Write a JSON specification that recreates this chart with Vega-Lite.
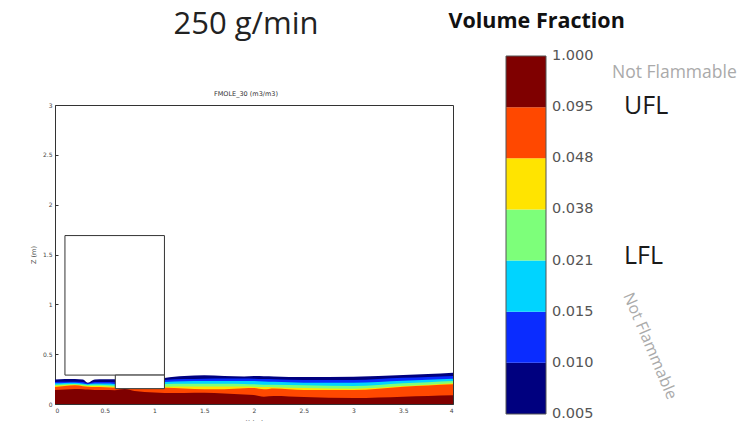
{
  "$schema": "https://vega.github.io/schema/vega-lite/v6.json",
  "background": "white",
  "padding": {"left": 29, "top": 8, "right": 0, "bottom": 0},
  "spacing": -6,
  "align": "none",
  "datasets": {
    "flow": [
      {"x": 0, "h005": 0.245, "h010": 0.22, "h015": 0.207, "h021": 0.194, "h038": 0.183, "h048": 0.17, "h095": 0.14},
      {"x": 0.1, "h005": 0.25, "h010": 0.222, "h015": 0.21, "h021": 0.197, "h038": 0.188, "h048": 0.18, "h095": 0.145},
      {"x": 0.2, "h005": 0.252, "h010": 0.224, "h015": 0.212, "h021": 0.2, "h038": 0.192, "h048": 0.187, "h095": 0.15},
      {"x": 0.28, "h005": 0.245, "h010": 0.22, "h015": 0.205, "h021": 0.195, "h038": 0.185, "h048": 0.178, "h095": 0.148},
      {"x": 0.33, "h005": 0.214, "h010": 0.205, "h015": 0.198, "h021": 0.19, "h038": 0.18, "h048": 0.172, "h095": 0.145},
      {"x": 0.4, "h005": 0.245, "h010": 0.22, "h015": 0.205, "h021": 0.192, "h038": 0.18, "h048": 0.17, "h095": 0.14},
      {"x": 0.5, "h005": 0.248, "h010": 0.22, "h015": 0.205, "h021": 0.19, "h038": 0.178, "h048": 0.168, "h095": 0.14},
      {"x": 0.6, "h005": 0.248, "h010": 0.218, "h015": 0.2, "h021": 0.186, "h038": 0.173, "h048": 0.163, "h095": 0.138},
      {"x": 0.7, "h005": 0.155, "h010": 0.155, "h015": 0.155, "h021": 0.155, "h038": 0.155, "h048": 0.155, "h095": 0.15},
      {"x": 0.8, "h005": 0.155, "h010": 0.155, "h015": 0.155, "h021": 0.155, "h038": 0.155, "h048": 0.155, "h095": 0.13},
      {"x": 0.9, "h005": 0.155, "h010": 0.155, "h015": 0.155, "h021": 0.155, "h038": 0.155, "h048": 0.155, "h095": 0.12},
      {"x": 1.0, "h005": 0.155, "h010": 0.155, "h015": 0.155, "h021": 0.155, "h038": 0.155, "h048": 0.155, "h095": 0.115},
      {"x": 1.1, "h005": 0.261, "h010": 0.241, "h015": 0.22, "h021": 0.2, "h038": 0.174, "h048": 0.164, "h095": 0.11},
      {"x": 1.3, "h005": 0.28, "h010": 0.25, "h015": 0.228, "h021": 0.203, "h038": 0.176, "h048": 0.155, "h095": 0.11},
      {"x": 1.5, "h005": 0.288, "h010": 0.254, "h015": 0.23, "h021": 0.204, "h038": 0.176, "h048": 0.147, "h095": 0.112},
      {"x": 1.7, "h005": 0.282, "h010": 0.255, "h015": 0.23, "h021": 0.203, "h038": 0.175, "h048": 0.148, "h095": 0.105},
      {"x": 1.9, "h005": 0.277, "h010": 0.255, "h015": 0.23, "h021": 0.2, "h038": 0.175, "h048": 0.158, "h095": 0.095},
      {"x": 2.0, "h005": 0.28, "h010": 0.254, "h015": 0.23, "h021": 0.197, "h038": 0.174, "h048": 0.16, "h095": 0.09},
      {"x": 2.1, "h005": 0.279, "h010": 0.25, "h015": 0.225, "h021": 0.194, "h038": 0.17, "h048": 0.147, "h095": 0.074},
      {"x": 2.2, "h005": 0.277, "h010": 0.248, "h015": 0.222, "h021": 0.192, "h038": 0.168, "h048": 0.155, "h095": 0.08},
      {"x": 2.5, "h005": 0.27, "h010": 0.241, "h015": 0.214, "h021": 0.187, "h038": 0.16, "h048": 0.14, "h095": 0.07},
      {"x": 3.0, "h005": 0.274, "h010": 0.241, "h015": 0.214, "h021": 0.18, "h038": 0.154, "h048": 0.14, "h095": 0.06},
      {"x": 3.5, "h005": 0.29, "h010": 0.264, "h015": 0.234, "h021": 0.207, "h038": 0.18, "h048": 0.174, "h095": 0.074},
      {"x": 3.75, "h005": 0.3, "h010": 0.272, "h015": 0.244, "h021": 0.218, "h038": 0.194, "h048": 0.185, "h095": 0.08},
      {"x": 4.0, "h005": 0.314, "h010": 0.281, "h015": 0.254, "h021": 0.23, "h038": 0.207, "h048": 0.197, "h095": 0.087}
    ],
    "obstacles": [
      {"x0": 0.1, "x1": 1.1, "z0": 0.29, "z1": 1.69},
      {"x0": 0.606, "x1": 1.1, "z0": 0.154, "z1": 0.29}
    ],
    "bands": [
      {"lo": 0, "hi": 1, "band": "0.005-0.010"},
      {"lo": 1, "hi": 2, "band": "0.010-0.015"},
      {"lo": 2, "hi": 3, "band": "0.015-0.021"},
      {"lo": 3, "hi": 4, "band": "0.021-0.038"},
      {"lo": 4, "hi": 5, "band": "0.038-0.048"},
      {"lo": 5, "hi": 6, "band": "0.048-0.095"},
      {"lo": 6, "hi": 7, "band": "0.095-1.000"}
    ],
    "ticks": [
      {"level": 0, "label": "0.005"},
      {"level": 1, "label": "0.010"},
      {"level": 2, "label": "0.015"},
      {"level": 3, "label": "0.021"},
      {"level": 4, "label": "0.038"},
      {"level": 5, "label": "0.048"},
      {"level": 6, "label": "0.095"},
      {"level": 7, "label": "1.000"}
    ],
    "limits": [
      {"note": "UFL", "level": 6.03},
      {"note": "LFL", "level": 3.08}
    ],
    "upper": [{"note": "Not Flammable", "level": 6.67}],
    "lower": [{"note": "Not Flammable", "level": 1.33}]
  },
  "hconcat": [
    {
      "width": 398,
      "height": 299,
      "view": {"stroke": "#333", "strokeWidth": 1},
      "title": {
        "text": "250 g/min",
        "subtitle": "FMOLE_30 (m3/m3)",
        "anchor": "middle",
        "dx": -8,
        "font": "Open Sans",
        "fontSize": 31,
        "fontWeight": "normal",
        "color": "#222",
        "subtitleFont": "DejaVu Sans",
        "subtitleFontSize": 6.5,
        "subtitleColor": "#333",
        "subtitlePadding": 50,
        "offset": 4
      },
      "layer": [
        {"data": {"name": "flow"}, "mark": {"type": "area", "color": "#00007f", "interpolate": "monotone"},
         "encoding": {
           "x": {"field": "x", "type": "quantitative", "title": "X (m)", "scale": {"domain": [0, 4], "nice": false}, "axis": {"values": [0, 0.5, 1, 1.5, 2, 2.5, 3, 3.5, 4], "format": "~g"}},
           "y": {"field": "h005", "type": "quantitative", "title": "Z (m)", "scale": {"domain": [0, 3], "nice": false}, "axis": {"values": [0, 0.5, 1, 1.5, 2, 2.5, 3], "format": "~g"}}}},
        {"data": {"name": "flow"}, "mark": {"type": "area", "color": "#0a2cff", "interpolate": "monotone"},
         "encoding": {"x": {"field": "x", "type": "quantitative", "title": "X (m)"}, "y": {"field": "h010", "type": "quantitative", "title": "Z (m)"}}},
        {"data": {"name": "flow"}, "mark": {"type": "area", "color": "#00d4ff", "interpolate": "monotone"},
         "encoding": {"x": {"field": "x", "type": "quantitative", "title": "X (m)"}, "y": {"field": "h015", "type": "quantitative", "title": "Z (m)"}}},
        {"data": {"name": "flow"}, "mark": {"type": "area", "color": "#7dff7a", "interpolate": "monotone"},
         "encoding": {"x": {"field": "x", "type": "quantitative", "title": "X (m)"}, "y": {"field": "h021", "type": "quantitative", "title": "Z (m)"}}},
        {"data": {"name": "flow"}, "mark": {"type": "area", "color": "#ffe400", "interpolate": "monotone"},
         "encoding": {"x": {"field": "x", "type": "quantitative", "title": "X (m)"}, "y": {"field": "h038", "type": "quantitative", "title": "Z (m)"}}},
        {"data": {"name": "flow"}, "mark": {"type": "area", "color": "#ff4800", "interpolate": "monotone"},
         "encoding": {"x": {"field": "x", "type": "quantitative", "title": "X (m)"}, "y": {"field": "h048", "type": "quantitative", "title": "Z (m)"}}},
        {"data": {"name": "flow"}, "mark": {"type": "area", "color": "#7f0000", "interpolate": "monotone"},
         "encoding": {"x": {"field": "x", "type": "quantitative", "title": "X (m)"}, "y": {"field": "h095", "type": "quantitative", "title": "Z (m)"}}},
        {"data": {"name": "obstacles"}, "mark": {"type": "rect", "fill": "white", "stroke": "#333", "strokeWidth": 1},
         "encoding": {"x": {"field": "x0", "type": "quantitative", "title": "X (m)"}, "x2": {"field": "x1"}, "y": {"field": "z0", "type": "quantitative", "title": "Z (m)"}, "y2": {"field": "z1"}}}
      ]
    },
    {
      "width": 231,
      "height": 309,
      "view": {"stroke": null},
      "title": {
        "text": "Volume Fraction",
        "anchor": "start",
        "dx": -57,
        "font": "Open Sans",
        "fontSize": 21.5,
        "fontWeight": "bold",
        "color": "#111",
        "offset": 16
      },
      "layer": [
        {"data": {"name": "bands"}, "mark": {"type": "rect"},
         "encoding": {
           "x": {"datum": 0, "type": "quantitative", "scale": {"domain": [0, 5.775], "nice": false}, "axis": null},
           "x2": {"datum": 1},
           "y": {"field": "lo", "type": "quantitative", "scale": {"domain": [0, 6.0419], "nice": false}, "axis": null},
           "y2": {"field": "hi"},
           "color": {"field": "band", "type": "nominal", "legend": null,
             "scale": {"domain": ["0.005-0.010", "0.010-0.015", "0.015-0.021", "0.021-0.038", "0.038-0.048", "0.048-0.095", "0.095-1.000"],
                       "range": ["#00007f", "#0a2cff", "#00d4ff", "#7dff7a", "#ffe400", "#ff4800", "#7f0000"]}}}},
        {"data": {"name": "bands"}, "mark": {"type": "rect", "fill": null, "fillOpacity": 0, "stroke": "#555", "strokeWidth": 1},
         "encoding": {"x": {"datum": 0, "type": "quantitative"}, "x2": {"datum": 1}, "y": {"aggregate": "min", "field": "lo", "type": "quantitative"}, "y2": {"aggregate": "max", "field": "hi"}}},
        {"data": {"name": "ticks"}, "mark": {"type": "text", "align": "left", "baseline": "middle", "font": "DejaVu Sans", "fontSize": 14.5, "color": "#555"},
         "encoding": {"x": {"datum": 1.15, "type": "quantitative"}, "y": {"field": "level", "type": "quantitative"}, "text": {"field": "label"}}},
        {"data": {"name": "upper"}, "mark": {"type": "text", "align": "left", "baseline": "middle", "font": "Open Sans", "fontSize": 17.5, "color": "#aaa"},
         "encoding": {"x": {"datum": 2.65, "type": "quantitative"}, "y": {"field": "level", "type": "quantitative"}, "text": {"field": "note"}}},
        {"data": {"name": "limits"}, "mark": {"type": "text", "align": "left", "baseline": "middle", "font": "Open Sans", "fontSize": 25, "color": "#1a1a1a"},
         "encoding": {"x": {"datum": 2.95, "type": "quantitative"}, "y": {"field": "level", "type": "quantitative"}, "text": {"field": "note"}}},
        {"data": {"name": "lower"}, "mark": {"type": "text", "align": "center", "baseline": "middle", "angle": 67, "font": "Open Sans", "fontSize": 16, "color": "#aaa"},
         "encoding": {"x": {"datum": 3.6, "type": "quantitative"}, "y": {"field": "level", "type": "quantitative"}, "text": {"field": "note"}}}
      ]
    }
  ],
  "config": {
    "font": "Open Sans",
    "axis": {
      "grid": false,
      "domain": false,
      "tickColor": "#333",
      "tickSize": -3,
      "labelPadding": 6,
      "labelFont": "DejaVu Sans",
      "labelFontSize": 6,
      "labelColor": "#444",
      "titleFont": "DejaVu Sans",
      "titleFontSize": 6.5,
      "titleFontWeight": "normal",
      "titleColor": "#444",
      "titlePadding": 6
    }
  }
}
